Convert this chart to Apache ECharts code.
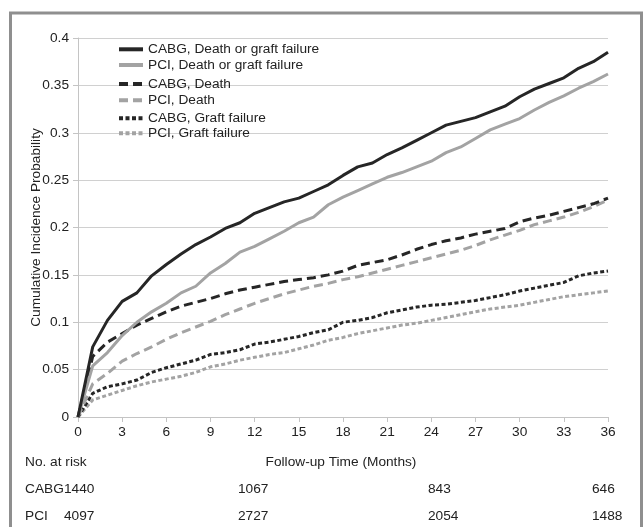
<!DOCTYPE html>
<html>
<head>
<meta charset="utf-8">
<script src="https://cdn.jsdelivr.net/npm/echarts@6/dist/echarts.min.js"></script>
<style>
html,body{margin:0;padding:0;background:#fff;}
#chart{width:643px;height:527px;}
</style>
</head>
<body>
<div id="chart"></div>
<script>
// ---- data ----
const months = [0,1,2,3,4,5,6,7,8,9,10,11,12,13,14,15,16,17,18,19,20,21,22,23,24,25,26,27,28,29,30,31,32,33,34,35,36];
const cabgDeathOrGraft = [0,0.074,0.102,0.122,0.131,0.149,0.161,0.172,0.182,0.190,0.199,0.205,0.215,0.221,0.227,0.231,0.238,0.245,0.255,0.264,0.268,0.277,0.284,0.292,0.300,0.308,0.312,0.316,0.322,0.328,0.338,0.346,0.352,0.358,0.368,0.375,0.385];
const pciDeathOrGraft  = [0,0.054,0.068,0.086,0.100,0.111,0.120,0.131,0.138,0.152,0.162,0.174,0.180,0.188,0.196,0.205,0.211,0.224,0.232,0.239,0.246,0.253,0.258,0.264,0.270,0.279,0.285,0.294,0.303,0.309,0.315,0.324,0.332,0.339,0.347,0.354,0.362];
const cabgDeath        = [0,0.064,0.079,0.088,0.097,0.104,0.111,0.117,0.121,0.125,0.130,0.134,0.137,0.140,0.143,0.145,0.147,0.150,0.154,0.160,0.163,0.166,0.171,0.177,0.182,0.186,0.189,0.193,0.196,0.199,0.206,0.210,0.213,0.217,0.221,0.225,0.231];
const pciDeath         = [0,0.035,0.046,0.059,0.067,0.074,0.082,0.089,0.095,0.101,0.108,0.114,0.120,0.125,0.130,0.134,0.138,0.141,0.145,0.148,0.152,0.156,0.160,0.164,0.168,0.172,0.176,0.181,0.187,0.192,0.197,0.203,0.207,0.211,0.216,0.222,0.229];
const cabgGraft        = [0,0.025,0.032,0.035,0.039,0.047,0.052,0.056,0.060,0.066,0.068,0.071,0.077,0.079,0.082,0.085,0.089,0.092,0.100,0.102,0.105,0.110,0.113,0.116,0.118,0.119,0.121,0.123,0.126,0.129,0.133,0.136,0.139,0.142,0.149,0.152,0.154];
const pciGraft         = [0,0.018,0.023,0.028,0.033,0.037,0.040,0.043,0.047,0.053,0.056,0.060,0.063,0.066,0.068,0.072,0.076,0.081,0.084,0.088,0.091,0.094,0.097,0.099,0.102,0.105,0.108,0.111,0.114,0.116,0.118,0.121,0.124,0.127,0.129,0.131,0.133];

const seriesNames = ['CABG, Death or graft failure','PCI, Death or graft failure','CABG, Death','PCI, Death','CABG, Graft failure','PCI, Graft failure'];

const riskMonths = [0, 12, 24, 36];
const riskCABG = ['1440','1067','843','646'];
const riskPCI  = ['4097','2727','2054','1488'];
const xTitle = 'Follow-up Time (Months)';
const yTitle = 'Cumulative Incidence Probability';
const riskTitle = 'No. at risk';

// ---- styles ----
const FONT = '"Liberation Sans", Arial, sans-serif';
const FS = 13.7;
const DARK = '#262626', LIGHT = '#a3a3a3';
const styles = [
  {color: DARK,  type: 'solid'},
  {color: LIGHT, type: 'solid'},
  {color: DARK,  type: [9, 5]},
  {color: LIGHT, type: [9, 5]},
  {color: DARK,  type: [4, 2.5]},
  {color: LIGHT, type: [4, 2.5]}
];
const valueSets = [cabgDeathOrGraft, pciDeathOrGraft, cabgDeath, pciDeath, cabgGraft, pciGraft];
const legendCenters = [49.3, 65, 84, 100.3, 118.3, 133.3];
const riskLeft = [64, 238, 428, 592];

const chart = echarts.init(document.getElementById('chart'), null, {renderer: 'canvas'});

const series = seriesNames.map((n, i) => ({
  name: n,
  type: 'line',
  data: months.map((m, j) => [m, valueSets[i][j]]),
  symbol: 'none',
  showSymbol: false,
  smooth: false,
  lineStyle: {color: styles[i].color, width: 3, type: styles[i].type, cap: 'butt'},
  itemStyle: {color: styles[i].color},
  z: 10 - i,
  silent: true,
  animation: false
}));

const legends = seriesNames.map((n, i) => ({
  data: [n],
  left: 117,
  top: legendCenters[i] - 7,
  itemWidth: 24,
  itemHeight: 14,
  itemGap: 5,
  textStyle: {fontFamily: FONT, fontSize: FS, color: '#222'},
  lineStyle: {width: 4},
  itemStyle: {opacity: 0},
  selectedMode: false,
  padding: 0
}));

chart.setOption({
  animation: false,
  backgroundColor: '#fff',
  grid: {left: 78, right: 35, top: 38, bottom: 110, containLabel: false},
  legend: legends,
  xAxis: {
    type: 'value', min: 0, max: 36, interval: 3,
    axisLine: {show: true, lineStyle: {color: '#c4c4c4', width: 1}},
    axisTick: {show: true, length: 5, lineStyle: {color: '#c4c4c4'}},
    axisLabel: {fontFamily: FONT, fontSize: FS, color: '#222', margin: 8},
    splitLine: {show: false}
  },
  yAxis: {
    type: 'value', min: 0, max: 0.4, interval: 0.05,
    axisLine: {show: true, lineStyle: {color: '#c4c4c4', width: 1}},
    axisTick: {show: true, length: 5, lineStyle: {color: '#c4c4c4'}},
    axisLabel: {fontFamily: FONT, fontSize: FS, color: '#222', margin: 9},
    splitLine: {show: true, lineStyle: {color: '#d0d0d0', width: 1}},
    name: yTitle,
    nameLocation: 'middle',
    nameGap: 35,
    nameMoveOverlap: false,
    nameTextStyle: {fontFamily: FONT, fontSize: FS, color: '#222'}
  },
  series: series
});

// risk table and captions
const px = m => chart.convertToPixel({xAxisIndex: 0}, m);
const textStyle = (t, x, y, align) => ({
  type: 'text', x: x, y: y,
  style: {text: t, font: FS + 'px ' + FONT, fill: '#222', align: align || 'left', verticalAlign: 'middle'}
});
const g = [];
g.push({type: 'rect', shape: {x: 10.5, y: 13, width: 631, height: 540}, style: {fill: 'none', stroke: '#8f8f8f', lineWidth: 3}, z: 100});
g.push(textStyle(riskTitle, 25, 462));
g.push(textStyle(xTitle, (px(0) + px(36)) / 2 - 2, 462, 'center'));
g.push(textStyle('CABG', 25, 489));
g.push(textStyle('PCI', 25, 516));
riskMonths.forEach((m, i) => {
  g.push(textStyle(riskCABG[i], riskLeft[i], 489));
  g.push(textStyle(riskPCI[i], riskLeft[i], 516));
});
chart.setOption({graphic: g});
</script>
</body>
</html>
